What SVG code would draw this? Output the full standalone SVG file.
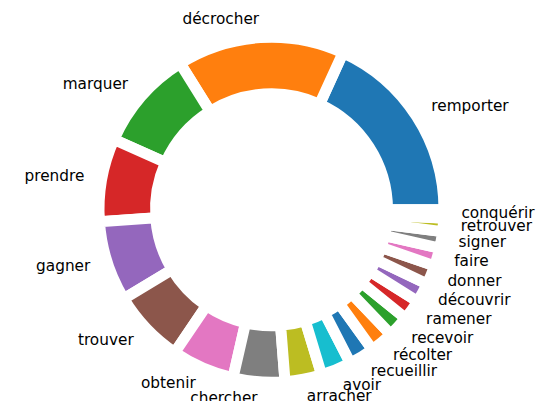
<svg xmlns="http://www.w3.org/2000/svg" width="541" height="401" viewBox="0 0 541 401">
<style>
.w{stroke:#fff;stroke-width:11;stroke-linejoin:miter}
.l{font-family:"DejaVu Sans",sans-serif;font-size:15.3px;fill:#000}
.e{text-anchor:end}
</style>
<rect width="541" height="401" fill="#fff"/>
<g id="wedges">
<g id="remporter"><path class="w" fill="#1f77b4" d="M444,209.7 A172.5,172.5 0 0 0 343.03,52.73 L319.6,104.14 A116,116 0 0 1 387.5,209.7 Z"/></g>
<g id="decrocher"><path class="w" fill="#ff7f0e" d="M343.03,52.73 A172.5,172.5 0 0 0 180.09,63.41 L210.03,111.33 A116,116 0 0 1 319.6,104.14 Z"/></g>
<g id="marquer"><path class="w" fill="#2ca02c" d="M180.09,63.41 A172.5,172.5 0 0 0 113.91,139.54 L165.53,162.52 A116,116 0 0 1 210.03,111.33 Z"/></g>
<g id="prendre"><path class="w" fill="#d62728" d="M113.91,139.54 A172.5,172.5 0 0 0 99.42,221.73 L155.78,217.79 A116,116 0 0 1 165.53,162.52 Z"/></g>
<g id="gagner"><path class="w" fill="#9467bd" d="M99.42,221.73 A172.5,172.5 0 0 0 123.79,298.8 L172.17,269.62 A116,116 0 0 1 155.78,217.79 Z"/></g>
<g id="trouver"><path class="w" fill="#8c564b" d="M123.79,298.8 A172.5,172.5 0 0 0 174.79,352.54 L206.47,305.75 A116,116 0 0 1 172.17,269.62 Z"/></g>
<g id="obtenir"><path class="w" fill="#e377c2" d="M174.79,352.54 A172.5,172.5 0 0 0 232.99,377.85 L245.6,322.77 A116,116 0 0 1 206.47,305.75 Z"/></g>
<g id="chercher"><path class="w" fill="#7f7f7f" d="M232.99,377.85 A172.5,172.5 0 0 0 285.03,381.67 L280.6,325.34 A116,116 0 0 1 245.6,322.77 Z"/></g>
<g id="arracher"><path class="w" fill="#bcbd22" d="M285.03,381.67 A172.5,172.5 0 0 0 321.65,374.75 L305.22,320.69 A116,116 0 0 1 280.6,325.34 Z"/></g>
<g id="avoir"><path class="w" fill="#17becf" d="M321.65,374.75 A172.5,172.5 0 0 0 350.35,363.13 L324.52,312.87 A116,116 0 0 1 305.22,320.69 Z"/></g>
<g id="recueillir"><path class="w" fill="#1f77b4" d="M350.35,363.13 A172.5,172.5 0 0 0 372.41,349.61 L339.36,303.79 A116,116 0 0 1 324.52,312.87 Z"/></g>
<g id="recolter"><path class="w" fill="#ff7f0e" d="M372.41,349.61 A172.5,172.5 0 0 0 390.68,334.41 L351.64,293.57 A116,116 0 0 1 339.36,303.79 Z"/></g>
<g id="recevoir"><path class="w" fill="#2ca02c" d="M390.68,334.41 A172.5,172.5 0 0 0 405.56,318.26 L361.65,282.7 A116,116 0 0 1 351.64,293.57 Z"/></g>
<g id="ramener"><path class="w" fill="#d62728" d="M405.56,318.26 A172.5,172.5 0 0 0 417.63,301.37 L369.77,271.34 A116,116 0 0 1 361.65,282.7 Z"/></g>
<g id="decouvrir"><path class="w" fill="#9467bd" d="M417.63,301.37 A172.5,172.5 0 0 0 427.2,283.96 L376.2,259.64 A116,116 0 0 1 369.77,271.34 Z"/></g>
<g id="donner"><path class="w" fill="#8c564b" d="M427.2,283.96 A172.5,172.5 0 0 0 434.6,265.86 L381.18,247.47 A116,116 0 0 1 376.2,259.64 Z"/></g>
<g id="faire"><path class="w" fill="#e377c2" d="M434.6,265.86 A172.5,172.5 0 0 0 439.65,248.21 L384.57,235.6 A116,116 0 0 1 381.18,247.47 Z"/></g>
<g id="signer"><path class="w" fill="#7f7f7f" d="M439.65,248.21 A172.5,172.5 0 0 0 442.6,231.62 L386.56,224.44 A116,116 0 0 1 384.57,235.6 Z"/></g>
<g id="retrouver"><path class="w" fill="#bcbd22" d="M442.6,231.62 A172.5,172.5 0 0 0 443.79,218.13 L387.36,215.37 A116,116 0 0 1 386.56,224.44 Z"/></g>
<g id="conquerir"><path class="w" fill="#17becf" d="M443.79,218.13 A172.5,172.5 0 0 0 444,209.7 L387.5,209.7 A116,116 0 0 1 387.36,215.37 Z"/></g>
</g>
<g id="labels">
<text class="l" x="431.3" y="111">remporter</text>
<text class="l e" x="259.1" y="24.2">décrocher</text>
<text class="l e" x="128.1" y="89.2">marquer</text>
<text class="l e" x="84.4" y="180.8">prendre</text>
<text class="l e" x="90.3" y="271.1">gagner</text>
<text class="l e" x="133.7" y="344.6">trouver</text>
<text class="l e" x="195.7" y="388">obtenir</text>
<text class="l e" x="257.6" y="403.3">chercher</text>
<text class="l" x="306.8" y="400.5">arracher</text>
<text class="l" x="342.8" y="389.9">avoir</text>
<text class="l" x="370.8" y="375.8">recueillir</text>
<text class="l" x="393" y="359.9">récolter</text>
<text class="l" x="411.2" y="342.6">recevoir</text>
<text class="l" x="426.1" y="324.3">ramener</text>
<text class="l" x="438" y="305.3">découvrir</text>
<text class="l" x="447.4" y="285.7">donner</text>
<text class="l" x="454.2" y="266">faire</text>
<text class="l" x="458.6" y="247.1">signer</text>
<text class="l" x="460.8" y="230.5">retrouver</text>
<text class="l" x="461.4" y="218.4">conquérir</text>
</g>
</svg>
